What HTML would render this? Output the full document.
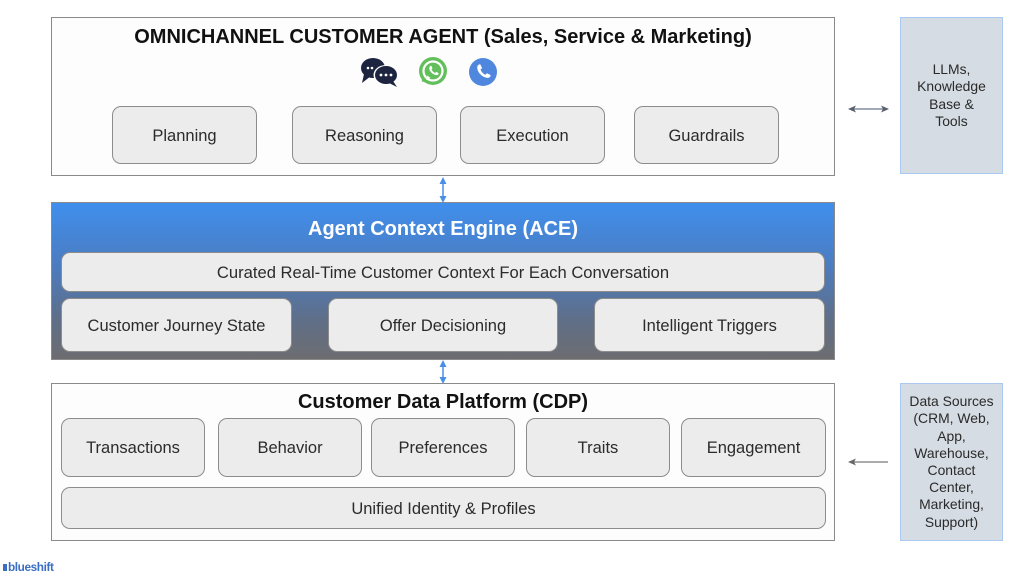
<!DOCTYPE html>
<html><head><meta charset="utf-8">
<style>
*{margin:0;padding:0;box-sizing:border-box}
body{width:1024px;height:575px;background:#fff;position:relative;overflow:hidden;font-family:"Liberation Sans",Arial,sans-serif;color:#2a2a2a}
.abs{position:absolute}
.frame{position:absolute;border:1.5px solid #8a8a8a;background:#fdfdfd}
.box{position:absolute;background:#ececec;border:1.3px solid #8c8c8c;border-radius:9px;display:flex;align-items:center;justify-content:center;font-size:16.5px;color:#2b2b2b;white-space:nowrap;padding-top:2px}
.title{position:absolute;font-weight:bold;white-space:nowrap;text-align:center}
.side{position:absolute;background:#d5dce3;border:1.3px solid #a9c9f0;display:flex;align-items:center;justify-content:center;text-align:center;font-size:13.9px;line-height:17.2px;color:#2a2a2a}
</style></head><body>

<!-- Top frame -->
<div class="frame" style="left:51px;top:17px;width:784px;height:159px"></div>
<div class="title" style="left:51px;width:784px;top:26px;font-size:20px;color:#111">OMNICHANNEL CUSTOMER AGENT (Sales, Service &amp; Marketing)</div>

<!-- icons -->
<svg class="abs" style="left:360px;top:56px" width="140" height="32" viewBox="0 0 140 32">
  <g fill="#1d2440">
    <ellipse cx="13" cy="12" rx="12" ry="10"/>
    <path d="M4 18 L2 27 L11 20 Z"/>
  </g>
  <ellipse cx="26" cy="19" rx="12.5" ry="10" fill="#fff"/>
  <g fill="#1d2440">
    <ellipse cx="26" cy="19" rx="11" ry="9"/>
    <path d="M33 25 L37 31 L29 27 Z"/>
  </g>
  <g fill="#fff">
    <circle cx="8" cy="12" r="1.3"/><circle cx="12" cy="12" r="1.3"/>
    <circle cx="21" cy="19" r="1.4"/><circle cx="26" cy="19" r="1.4"/><circle cx="31" cy="19" r="1.4"/>
  </g>
  <circle cx="73" cy="15" r="14" fill="#62bf5c"/>
  <path d="M64 26 L66 20" stroke="#62bf5c" stroke-width="5"/>
  <circle cx="73" cy="15" r="9.5" fill="none" stroke="#fff" stroke-width="2.2"/>
  <path d="M66 24 L67.5 19.5 L70.5 22 Z" fill="#fff"/>
  <path d="M69.5 11 q0.5-1.5 1.8-1.2 l1.2 2.4 -1 1.2 q1.2 2.6 3.5 3.6 l1.2-1.1 2.4 1.2 q0.2 1.4-1.4 2 q-3.5 0.2-6.5-3.2 q-2-2.6-1.2-4.9z" fill="#fff"/>
  <circle cx="123" cy="16" r="14" fill="#4f87de"/>
  <path d="M117.5 10 q1-2 2.8-1.6 l1.8 3.6 -1.6 1.6 q1.6 3.6 4.8 5.2 l1.7-1.6 3.5 1.8 q0.4 2-2 2.8 q-5 0.4-9-4.4 q-3-3.8-2-7.4z" fill="#fff"/>
</svg>

<div class="box" style="left:112px;top:106px;width:145px;height:58px">Planning</div>
<div class="box" style="left:292px;top:106px;width:145px;height:58px">Reasoning</div>
<div class="box" style="left:460px;top:106px;width:145px;height:58px">Execution</div>
<div class="box" style="left:634px;top:106px;width:145px;height:58px">Guardrails</div>

<!-- ACE -->
<div class="abs" style="left:51px;top:202px;width:784px;height:158px;border:1.3px solid #8a8a8a;background:linear-gradient(#3f8fed 0%,#4c7cc0 40%,#5f6f88 75%,#6d6d70 100%)"></div>
<div class="title" style="left:51px;width:784px;top:218px;font-size:20px;color:#fff">Agent Context Engine (ACE)</div>
<div class="box" style="left:61px;top:252px;width:764px;height:40px;font-size:16.6px">Curated Real-Time Customer Context For Each Conversation</div>
<div class="box" style="left:61px;top:298px;width:231px;height:54px">Customer Journey State</div>
<div class="box" style="left:328px;top:298px;width:230px;height:54px">Offer Decisioning</div>
<div class="box" style="left:594px;top:298px;width:231px;height:54px">Intelligent Triggers</div>

<!-- CDP -->
<div class="frame" style="left:51px;top:383px;width:784px;height:158px"></div>
<div class="title" style="left:51px;width:784px;top:391px;font-size:20px;color:#111">Customer Data Platform (CDP)</div>
<div class="box" style="left:61px;top:418px;width:144px;height:59px">Transactions</div>
<div class="box" style="left:218px;top:418px;width:144px;height:59px">Behavior</div>
<div class="box" style="left:371px;top:418px;width:144px;height:59px">Preferences</div>
<div class="box" style="left:526px;top:418px;width:144px;height:59px">Traits</div>
<div class="box" style="left:681px;top:418px;width:145px;height:59px">Engagement</div>
<div class="box" style="left:61px;top:487px;width:765px;height:42px">Unified Identity &amp; Profiles</div>

<!-- side boxes -->
<div class="side" style="left:900px;top:17px;width:103px;height:157px">LLMs,<br>Knowledge<br>Base &amp;<br>Tools</div>
<div class="side" style="left:900px;top:383px;width:103px;height:158px">Data Sources<br>(CRM, Web,<br>App,<br>Warehouse,<br>Contact<br>Center,<br>Marketing,<br>Support)</div>

<!-- arrows -->
<svg class="abs" style="left:0;top:0" width="1024" height="575">
  <g stroke="#4a8fe6" stroke-width="1.5" fill="#4a8fe6">
    <line x1="443" y1="182" x2="443" y2="198"/>
    <path d="M443 177 L439.5 184 L446.5 184 Z" stroke="none"/>
    <path d="M443 203 L439.5 196 L446.5 196 Z" stroke="none"/>
    <line x1="443" y1="365" x2="443" y2="379"/>
    <path d="M443 360 L439.5 367 L446.5 367 Z" stroke="none"/>
    <path d="M443 384 L439.5 377 L446.5 377 Z" stroke="none"/>
  </g>
  <g stroke="#6a7890" stroke-width="1.3" fill="#5a5f6a">
    <line x1="851" y1="109" x2="886" y2="109"/>
    <path d="M848 109 L856 105.5 L854 109 L856 112.5 Z" stroke="none"/>
    <path d="M889 109 L881 105.5 L883 109 L881 112.5 Z" stroke="none"/>
  </g>
  <g stroke="#7a7a7a" stroke-width="1.2" fill="#666">
    <line x1="851" y1="462" x2="888" y2="462"/>
    <path d="M848 462 L856 458.5 L854 462 L856 465.5 Z" stroke="none"/>
  </g>
</svg>

<!-- logo -->
<div class="abs" style="left:3px;top:560px;font-size:11.8px;font-weight:bold;color:#3a6fc4;letter-spacing:-0.4px">
<span style="display:inline-block;width:4px;height:7px;background:#3a6fc4;margin-right:1px"></span>blueshift</div>

</body></html>
